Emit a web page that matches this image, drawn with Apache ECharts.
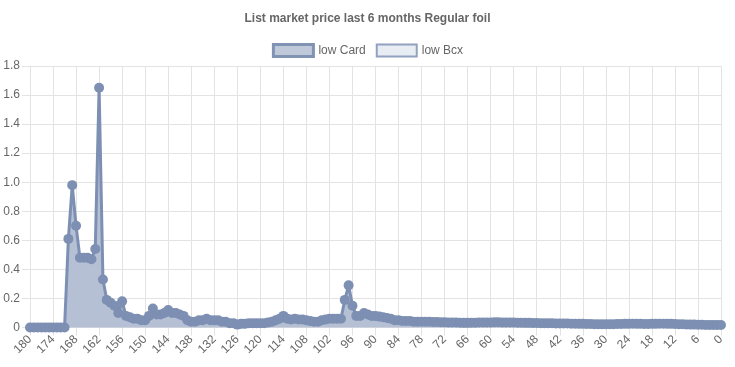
<!DOCTYPE html>
<html><head><meta charset="utf-8">
<script src="https://cdn.jsdelivr.net/npm/echarts@6/dist/echarts.min.js"></script>
<style>html,body{margin:0;padding:0;background:#fff}#c{width:735px;height:367px}</style>
</head><body><div id="c"></div>
<script>
const titleText = "List market price last 6 months Regular foil";
const seriesNames = ["low Card", "low Bcx"];
const categories = [];
for (let d = 180; d >= 0; d--) categories.push(String(d));
const lowCard = [
  0,0,0,0,0,0,0,0,0,0,
  0.61,0.98,0.70,0.48,0.48,0.48,0.47,0.54,1.65,0.33,
  0.19,0.17,0.15,0.10,0.18,0.08,0.07,0.06,0.06,0.05,
  0.05,0.08,0.13,0.09,0.09,0.10,0.12,0.10,0.10,0.09,
  0.08,0.05,0.04,0.04,0.05,0.05,0.06,0.05,0.05,0.05,
  0.04,0.04,0.03,0.03,0.02,0.025,0.025,0.03,0.03,0.03,
  0.03,0.03,0.035,0.04,0.05,0.06,0.08,0.06,0.055,0.06,
  0.055,0.055,0.05,0.045,0.04,0.04,0.05,0.055,0.06,0.06,
  0.06,0.06,0.19,0.29,0.15,0.08,0.08,0.10,0.09,0.08,
  0.08,0.075,0.07,0.065,0.06,0.05,0.05,0.045,0.045,0.045,
  0.04,0.04,0.04,0.04,0.04,0.038,0.038,0.036,0.036,0.035,
  0.035,0.034,0.033,0.032,0.032,0.033,0.033,0.034,0.034,0.035,
  0.035,0.036,0.036,0.035,0.035,0.034,0.034,0.033,0.033,0.032,
  0.032,0.031,0.031,0.03,0.03,0.03,0.029,0.028,0.028,0.027,
  0.027,0.026,0.026,0.025,0.025,0.024,0.024,0.023,0.022,0.022,
  0.022,0.023,0.023,0.024,0.024,0.025,0.025,0.026,0.025,0.025,
  0.024,0.024,0.025,0.025,0.026,0.026,0.025,0.025,0.024,0.023,
  0.022,0.021,0.02,0.02,0.019,0.019,0.018,0.018,0.018,0.017,
  0.017
];
const lowBcx = [];
const yTicks = [0,0.2,0.4,0.6,0.8,1.0,1.2,1.4,1.6,1.8];

const lineColor = '#7d8fb2';
const fillColor = '#b5c0d4';
const gridColor = '#e3e3e3';
const chart = echarts.init(document.getElementById('c'), null, {renderer:'canvas'});
chart.setOption({
  animation:false,
  title:{text:titleText,left:'center',top:8,textStyle:{fontFamily:'Liberation Sans',fontSize:12,fontWeight:'bold',color:'#666'}},
  legend:{top:38,left:'center',itemWidth:40,itemHeight:12,itemGap:10,
    textStyle:{fontFamily:'Liberation Sans',fontSize:12,color:'#666'},
    data:[
      {name:seriesNames[0],icon:'rect',itemStyle:{color:'#c0c9da',borderColor:'#8193b3',borderWidth:3}},
      {name:seriesNames[1],icon:'rect',itemStyle:{color:'#e8ecf3',borderColor:'#91a2c0',borderWidth:2}}
    ]},
  grid:{left:30,right:14,top:66,bottom:39.5,containLabel:false,outerBoundsMode:'none'},
  xAxis:{type:'category',data:categories,boundaryGap:false,
    axisLine:{show:true,lineStyle:{color:gridColor}},
    axisTick:{show:true,interval:5,length:8,lineStyle:{color:gridColor}},
    splitLine:{show:true,interval:5,lineStyle:{color:gridColor}},
    axisLabel:{interval:5,rotate:45,margin:10,fontFamily:'Liberation Sans',fontSize:12,color:'#666'}},
  yAxis:{type:'value',min:0,max:1.8,interval:0.2,
    axisLine:{show:true,lineStyle:{color:gridColor}},
    axisTick:{show:true,length:8,lineStyle:{color:gridColor}},
    splitLine:{show:true,lineStyle:{color:gridColor}},
    axisLabel:{margin:10,fontFamily:'Liberation Sans',fontSize:12,color:'#666',
      formatter:v=>{const t=yTicks.find(x=>Math.abs(x-v)<1e-9);return t===0?'0':(t!==undefined?t.toFixed(1):v.toFixed(1));}}},
  series:[
    {name:seriesNames[0],type:'line',data:lowCard,symbol:'circle',symbolSize:10,showAllSymbol:true,
      lineStyle:{color:lineColor,width:3},itemStyle:{color:lineColor},
      areaStyle:{color:fillColor,opacity:1}},
    {name:seriesNames[1],type:'line',data:lowBcx,symbol:'circle',symbolSize:9,
      lineStyle:{color:'#91a2c0',width:2},itemStyle:{color:'#91a2c0'},areaStyle:{color:'#e8ecf3',opacity:1}}
  ]
});
</script></body></html>
